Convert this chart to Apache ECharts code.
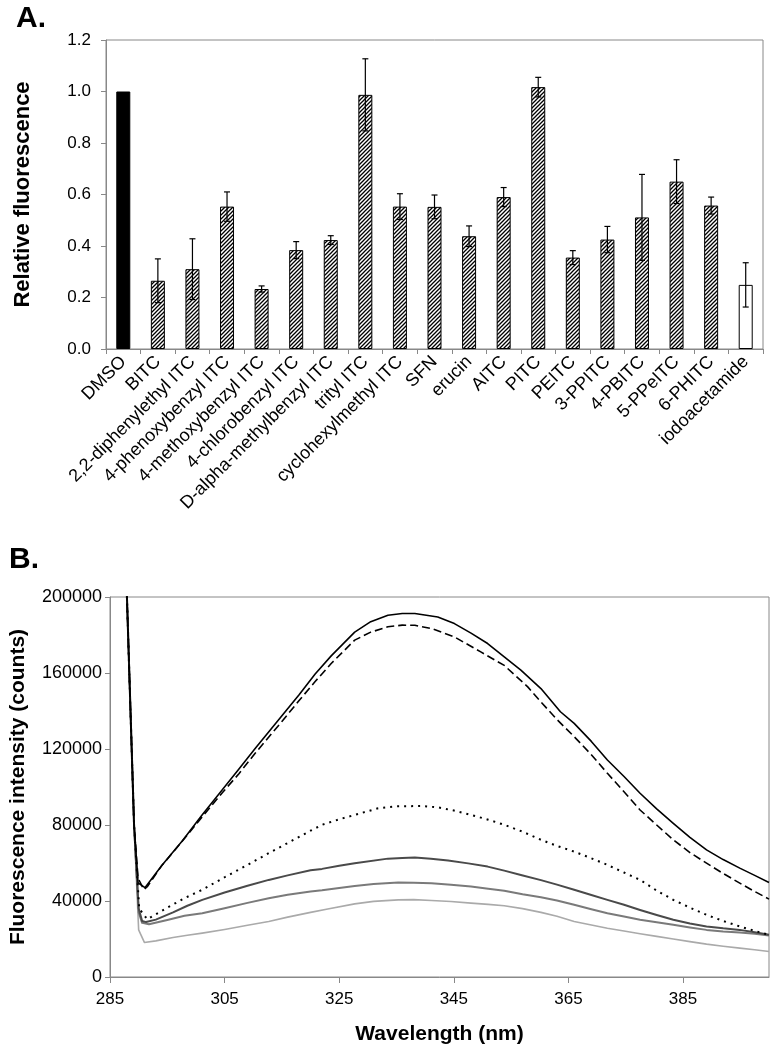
<!DOCTYPE html>
<html>
<head>
<meta charset="utf-8">
<script src="https://cdn.jsdelivr.net/npm/echarts@6/dist/echarts.min.js"></script>
<style>
html,body{margin:0;padding:0;background:#fff;}
#c{width:776px;height:1050px;}
</style>
</head>
<body>
<div id="c"></div>
<script>
// ---------- Panel A data ----------
const categories = ['DMSO','BITC','2,2-diphenylethyl ITC','4-phenoxybenzyl ITC','4-methoxybenzyl ITC','4-chlorobenzyl ITC','D-alpha-methylbenzyl ITC','trityl ITC','cyclohexylmethyl ITC','SFN','erucin','AITC','PITC','PEITC','3-PPITC','4-PBITC','5-PPeITC','6-PHITC','iodoacetamide'];
const relFluor = [1.0, 0.265, 0.31, 0.553, 0.233, 0.384, 0.423, 0.987, 0.553, 0.552, 0.438, 0.59, 1.017, 0.355, 0.425, 0.511, 0.65, 0.557, 0.249];
const relErr   = [0, 0.085, 0.118, 0.057, 0.012, 0.033, 0.017, 0.14, 0.05, 0.046, 0.04, 0.037, 0.038, 0.027, 0.051, 0.167, 0.085, 0.033, 0.086];
const yTicksA = [0, 0.2, 0.4, 0.6, 0.8, 1.0, 1.2];

// ---------- Panel B data ([wavelength nm, counts]) ----------
const xTicksB = [285, 305, 325, 345, 365, 385];
const yTicksB = [0, 40000, 80000, 120000, 160000, 200000];
const curveSolid = [[287.8,215000],[289.2,80000],[289.9,49500],[290.4,48500],[291.1,47000],[294,58500],[297.6,71600],[301,85000],[304.6,98500],[307.5,109500],[310.4,120500],[315,137500],[318,148500],[320.8,159500],[323.6,169000],[327.7,181500],[330.5,187000],[333.5,190400],[336,191300],[338.2,191300],[342.2,189500],[345.1,186000],[348,181000],[350.9,175500],[353.8,168500],[356.7,161500],[360.2,151800],[363.6,139600],[366,133500],[369,124000],[371.8,114200],[374.7,105500],[377.5,96700],[380.4,88500],[383.3,80900],[386.2,73500],[389.1,66900],[392,61800],[394.9,57300],[397.5,53500],[400,49700]];
const curveDashed = [[287.8,215000],[289.2,80000],[289.9,52000],[290.9,46000],[291.5,47500],[294,58500],[297.6,71400],[301,84000],[304.6,97000],[307.5,107000],[310.4,118000],[315,134500],[318,145500],[320.8,155500],[323.6,165000],[327.7,177300],[330.5,181500],[333.5,184300],[336,185200],[338.2,185100],[341.1,183400],[345.1,179000],[349.7,171100],[353.8,164000],[357.9,152700],[360.2,144800],[363,135500],[366,126500],[369,117000],[371.8,107200],[374.7,97500],[377.5,87900],[380.4,80000],[383.3,72200],[386.2,65500],[389.1,59900],[392,54500],[394.9,49400],[397.5,45000],[400,41000]];
const curveDotted = [[287.8,215000],[289.2,80000],[290.1,36000],[291.5,30400],[295,36500],[298,41500],[301.1,45900],[305,52500],[309,59000],[312.7,65200],[316,70500],[320,77000],[322,80100],[325,83000],[327.7,85300],[331.8,88800],[335,89800],[339.3,90000],[342.2,89300],[345,87600],[348,85300],[351,82800],[353.8,80100],[357,76500],[360.2,72200],[363,69000],[366,66000],[369,62500],[371.8,59000],[374.7,55000],[377.5,51100],[380.4,45500],[383.3,40600],[386.2,36500],[389.1,32700],[392,29500],[394.9,26600],[397.5,24300],[400,22200]];
const curveDarkGrey = [[287.8,215000],[289.2,80000],[290,36000],[290.6,29500],[291.3,28900],[293,30200],[296,34000],[298.5,37500],[301.1,40600],[305,44500],[309,48000],[312.7,51100],[316,53500],[320,56200],[322,56900],[325,58500],[327.7,59900],[333.5,62300],[336,62600],[338.2,62900],[341,62200],[344,61300],[347.5,59800],[350.9,58100],[353.8,56000],[356.7,53700],[360.2,51000],[363,48600],[366,45900],[369,43200],[371.8,40600],[374.7,38000],[377.5,35300],[380.4,32600],[383.3,30100],[386.2,28200],[389.1,26600],[392,25600],[394.9,24800],[397.5,23500],[400,22200]];
const curveMidGrey = [[287.8,215000],[289.2,80000],[290,34000],[290.6,28500],[291.8,27800],[295,30000],[298,32200],[301.1,33600],[305,36200],[309,39000],[312.7,41500],[316,43300],[320,45000],[322,45600],[325,46800],[327.7,47900],[331,48900],[335.3,49700],[338,49600],[341.1,49300],[344.5,48600],[348,47600],[351,46500],[353.8,45400],[357,43500],[360.2,42000],[363,40300],[366,38000],[369,35700],[371.8,33600],[374.7,31800],[377.5,30100],[380.4,28800],[383.3,27500],[386.2,26100],[389.1,24800],[392,24000],[394.9,23400],[397.5,22700],[400,21900]];
const curveLightGrey = [[287.8,215000],[289.2,80000],[290,24800],[291,18200],[293,19000],[296,20800],[298.5,22000],[301.1,23100],[305,25000],[309,27200],[312.7,29200],[316,31500],[320,34000],[323,35800],[327.7,38500],[331,39800],[335.3,40600],[338,40700],[341.1,40300],[344.5,39700],[348,38900],[351,38200],[353.8,37500],[357,36000],[360.2,34000],[363,32000],[366,29200],[369,27400],[371.8,25700],[374.7,24200],[377.5,22800],[380.4,21400],[383.3,20000],[386.2,18600],[389.1,17300],[392,16200],[394.9,15200],[397.5,14300],[400,13400]];

// ---------- styling ----------
const FONT = "'Liberation Sans', Arial, Helvetica, sans-serif";
const AXIS_GREY = '#888';

function hatchCanvas() {
  const c = document.createElement('canvas');
  c.width = 4; c.height = 4;
  const g = c.getContext('2d');
  g.fillStyle = '#fff'; g.fillRect(0, 0, 4, 4);
  g.strokeStyle = '#000'; g.lineWidth = 1.3;
  g.beginPath();
  g.moveTo(0, 4); g.lineTo(4, 0);
  g.moveTo(-1, 1); g.lineTo(1, -1);
  g.moveTo(3, 5); g.lineTo(5, 3);
  g.stroke();
  return c;
}
const hatch = { image: hatchCanvas(), repeat: 'repeat' };

const barData = relFluor.map((v, i) => {
  let color = hatch;
  if (i === 0) color = '#000';
  if (i === categories.length - 1) color = '#fff';
  return { value: v, itemStyle: { color: color, borderColor: '#000', borderWidth: 1 } };
});
const errData = relFluor.map((v, i) => [i, v, relErr[i]]);

const chart = echarts.init(document.getElementById('c'), null, { renderer: 'canvas' });

function curve(data, color, width, type, z) {
  return {
    type: 'line', xAxisIndex: 1, yAxisIndex: 1, data: data,
    showSymbol: false, smooth: false, clip: true,
    lineStyle: { color: color, width: width, type: type || 'solid', join: 'round' }, z: z
  };
}

const option = {
  backgroundColor: '#fff',
  animation: false,
  textStyle: { fontFamily: FONT, color: '#000' },
  graphic: [
    { type: 'text', left: 16, top: 4, style: { text: 'A.', font: "bold 30px " + FONT, fill: '#000' } },
    { type: 'text', left: 9, top: 545, style: { text: 'B.', font: "bold 30px " + FONT, fill: '#000' } }
  ],
  grid: [
    { left: 106, top: 40, width: 657, height: 309, show: true, borderColor: AXIS_GREY, borderWidth: 1, backgroundColor: 'transparent' },
    { left: 107, top: 597, width: 662, height: 380, show: true, borderColor: AXIS_GREY, borderWidth: 1, backgroundColor: 'transparent' }
  ],
  xAxis: [
    {
      gridIndex: 0, type: 'category', data: categories, boundaryGap: true,
      axisLine: { lineStyle: { color: AXIS_GREY, width: 1 } },
      axisTick: { show: true, length: 5, lineStyle: { color: AXIS_GREY } },
      axisLabel: { rotate: 45, interval: 0, margin: 10, fontSize: 18, color: '#000', fontFamily: FONT },
      splitLine: { show: false }
    },
    {
      gridIndex: 1, type: 'value', min: 285, max: 400,
      axisLine: { lineStyle: { color: AXIS_GREY, width: 1 } },
      axisTick: { show: true, length: 6, lineStyle: { color: AXIS_GREY }, customValues: xTicksB },
      axisLabel: { margin: 14, fontSize: 17, color: '#000', fontFamily: FONT, customValues: xTicksB, formatter: v => String(v) },
      splitLine: { show: false },
      name: 'Wavelength (nm)', nameLocation: 'middle', nameGap: 47,
      nameTextStyle: { fontSize: 21, fontWeight: 'bold', color: '#000', fontFamily: FONT }
    }
  ],
  yAxis: [
    {
      gridIndex: 0, type: 'value', min: 0, max: 1.2, interval: 0.2,
      axisLine: { show: true, lineStyle: { color: AXIS_GREY, width: 1 } },
      axisTick: { show: true, length: 5, lineStyle: { color: AXIS_GREY } },
      axisLabel: { margin: 15, fontSize: 17, color: '#000', fontFamily: FONT, formatter: v => v.toFixed(1) },
      splitLine: { show: false },
      name: 'Relative fluorescence', nameLocation: 'middle', nameGap: 72,
      nameTextStyle: { fontSize: 22, fontWeight: 'bold', color: '#000', fontFamily: FONT }
    },
    {
      gridIndex: 1, type: 'value', min: 0, max: 200000, interval: 40000,
      axisLine: { show: true, lineStyle: { color: AXIS_GREY, width: 1 } },
      axisTick: { show: true, length: 5, lineStyle: { color: AXIS_GREY } },
      axisLabel: { margin: 8, fontSize: 18, color: '#000', fontFamily: FONT, formatter: v => String(v) },
      splitLine: { show: false },
      name: 'Fluorescence intensity (counts)', nameLocation: 'middle', nameGap: 81,
      nameTextStyle: { fontSize: 21, fontWeight: 'bold', color: '#000', fontFamily: FONT }
    }
  ],
  series: [
    {
      type: 'bar', xAxisIndex: 0, yAxisIndex: 0, data: barData, barWidth: 14, z: 2
    },
    {
      type: 'custom', xAxisIndex: 0, yAxisIndex: 0, data: errData, z: 5,
      encode: { x: 0, y: 1 },
      renderItem: function (params, api) {
        const i = api.value(0), v = api.value(1), e = api.value(2);
        if (!e) return null;
        const hi = api.coord([i, v + e]);
        const lo = api.coord([i, v - e]);
        const hw = 3;
        const st = { stroke: '#000', lineWidth: 1.2 };
        return {
          type: 'group',
          children: [
            { type: 'line', shape: { x1: hi[0], y1: hi[1], x2: lo[0], y2: lo[1] }, style: st },
            { type: 'line', shape: { x1: hi[0] - hw, y1: hi[1], x2: hi[0] + hw, y2: hi[1] }, style: st },
            { type: 'line', shape: { x1: lo[0] - hw, y1: lo[1], x2: lo[0] + hw, y2: lo[1] }, style: st }
          ]
        };
      }
    },
    curve(curveLightGrey, '#aaaaaa', 1.6, 'solid', 3),
    curve(curveMidGrey, '#7a7a7a', 2, 'solid', 3),
    curve(curveDarkGrey, '#4a4a4a', 2, 'solid', 3),
    curve(curveDotted, '#000', 2, [2, 5], 4),
    curve(curveDashed, '#000', 1.6, [8, 4], 4),
    curve(curveSolid, '#000', 1.6, 'solid', 4)
  ]
};
chart.setOption(option);
</script>
</body>
</html>
